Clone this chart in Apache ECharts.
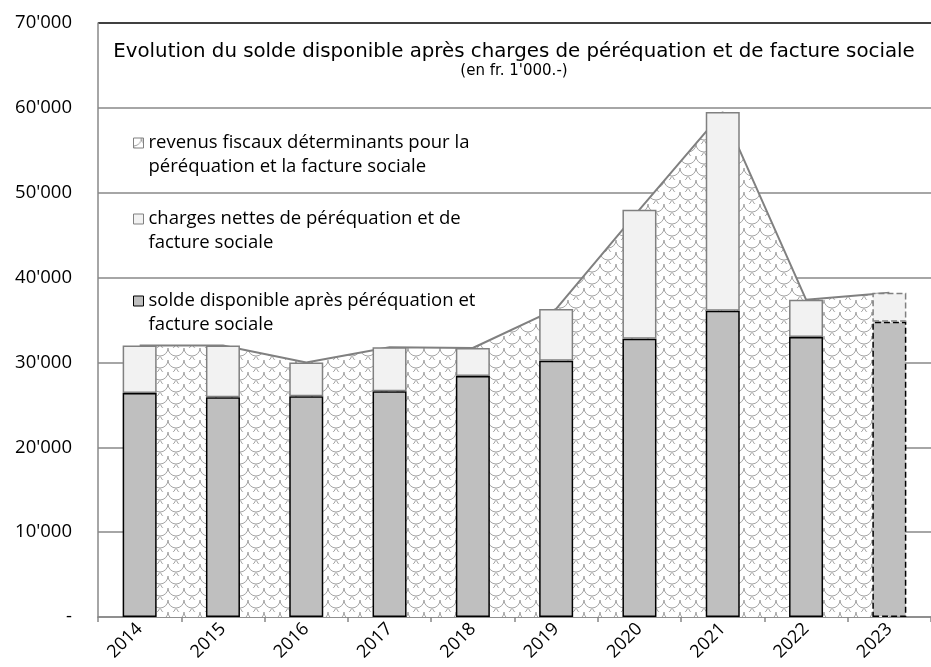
<!DOCTYPE html>
<html>
<head>
<meta charset="utf-8">
<script src="https://cdn.jsdelivr.net/npm/echarts@6/dist/echarts.min.js"></script>
<style>
  html, body { margin: 0; padding: 0; background: #fff; }
  #main { width: 931px; height: 667px; }
</style>
</head>
<body>
<div id="main"></div>
<script>
  var years = ['2014', '2015', '2016', '2017', '2018', '2019', '2020', '2021', '2022', '2023']
  // revenus fiscaux déterminants (surface)
  var revenus = [32000, 32000, 30000, 31800, 31700, 36300, 48000, 59500, 37400, 38200]
  // solde disponible (bas de la colonne)
  var solde = [26400, 25900, 26000, 26600, 28400, 30200, 32800, 36100, 33000, 34800]
  // charges nettes (haut de la colonne)
  var charges = [5600, 6100, 4000, 5200, 3300, 6100, 15200, 23400, 4400, 3400]
  var yLabels = ['-', "10'000", "20'000", "30'000", "40'000", "50'000", "60'000", "70'000"]

  var nameRev = 'revenus fiscaux déterminants pour la\npéréquation et la facture sociale'
  var nameCharges = 'charges nettes de péréquation et de\nfacture sociale'
  var nameSolde = 'solde disponible après péréquation et\nfacture sociale'
  var font = '"Open Sans", sans-serif'
  var titleFont = '"DejaVu Sans", sans-serif'

  // motif "écailles" pour la surface
  function makePattern () {
    var c = document.createElement('canvas')
    c.width = 16
    c.height = 12
    var ctx = c.getContext('2d')
    ctx.fillStyle = '#ffffff'
    ctx.fillRect(0, 0, 16, 12)
    ctx.strokeStyle = '#a4a4a4'
    ctx.lineWidth = 1
    ctx.beginPath()
    ctx.arc(0, 0, 8, 0, Math.PI / 2)
    ctx.stroke()
    ctx.beginPath()
    ctx.arc(16, 0, 8, Math.PI / 2, Math.PI)
    ctx.stroke()
    ctx.beginPath()
    ctx.arc(8, 6, 8, 0.1 * Math.PI, 0.9 * Math.PI)
    ctx.stroke()
    return { image: c, repeat: 'repeat' }
  }
  var pattern = makePattern()

  // la dernière année (estimation) en pointillé
  function barData (values, border) {
    return values.map(function (v, i) {
      if (i === values.length - 1) {
        return { value: v, itemStyle: { borderType: 'dashed', borderColor: border } }
      }
      return v
    })
  }

  function legendAt (name, top, style) {
    return {
      left: 133,
      top: top,
      padding: 0,
      orient: 'vertical',
      selectedMode: false,
      itemWidth: 10,
      itemHeight: 10,
      data: [{ name: name, icon: 'rect', itemStyle: style }],
      // ligne vide en tête : la première ligne du texte reste à hauteur du carré
      formatter: function (n) { return '\n' + n },
      textStyle: {
        fontFamily: font,
        fontSize: 18.5,
        color: '#000',
        lineHeight: 24
      }
    }
  }

  var myChart = echarts.init(document.getElementById('main'))
  myChart.setOption({
    animation: false,
    title: {
      text: 'Evolution du solde disponible après charges de péréquation et de facture sociale',
      subtext: "(en fr. 1'000.-)",
      left: 514,
      top: 42,
      textAlign: 'center',
      itemGap: 2,
      padding: 0,
      textStyle: { fontFamily: titleFont, fontSize: 19.8, fontWeight: 'normal', color: '#000' },
      subtextStyle: { fontFamily: titleFont, fontSize: 15, color: '#000' }
    },
    legend: [
      legendAt(nameRev, 107, { color: pattern, borderColor: '#808080', borderWidth: 1 }),
      legendAt(nameCharges, 183, { color: '#f2f2f2', borderColor: '#808080', borderWidth: 1 }),
      legendAt(nameSolde, 265, { color: '#bfbfbf', borderColor: '#000', borderWidth: 1 })
    ],
    grid: {
      left: 98,
      right: -2,
      top: 23,
      bottom: 50,
      containLabel: false
    },
    xAxis: {
      type: 'category',
      data: years,
      axisLine: { lineStyle: { color: '#888', width: 1.5 } },
      axisTick: { show: true, length: 5, lineStyle: { color: '#888', width: 1.5 } },
      axisLabel: {
        rotate: 45,
        margin: 9,
        fontFamily: font,
        fontSize: 18,
        color: '#000'
      }
    },
    yAxis: {
      type: 'value',
      min: 0,
      max: 70000,
      interval: 10000,
      axisLine: { show: true, lineStyle: { color: '#888', width: 1.5 } },
      axisTick: { show: false },
      axisLabel: {
        margin: 26,
        fontFamily: font,
        fontSize: 18.5,
        color: '#000',
        formatter: function (v) { return yLabels[Math.round(v / 10000)] }
      },
      splitLine: {
        lineStyle: {
          color: ['#888', '#888', '#888', '#888', '#888', '#888', '#888', '#000'],
          width: 1.5
        }
      }
    },
    series: [{
      name: nameRev,
      type: 'line',
      data: revenus,
      showSymbol: false,
      symbol: 'none',
      z: 1,
      lineStyle: { color: '#808080', width: 2 },
      itemStyle: { color: pattern, borderColor: '#808080' },
      areaStyle: { color: pattern, opacity: 1 }
    }, {
      name: nameSolde,
      type: 'bar',
      stack: 'col',
      barWidth: 34,
      z: 3,
      data: barData(solde, '#000'),
      itemStyle: { color: '#bfbfbf', borderColor: '#000', borderWidth: 1.5 }
    }, {
      name: nameCharges,
      type: 'bar',
      stack: 'col',
      barWidth: 34,
      z: 3,
      data: barData(charges, '#808080'),
      itemStyle: { color: '#f2f2f2', borderColor: '#808080', borderWidth: 1.5 }
    }]
  })
</script>
</body>
</html>
